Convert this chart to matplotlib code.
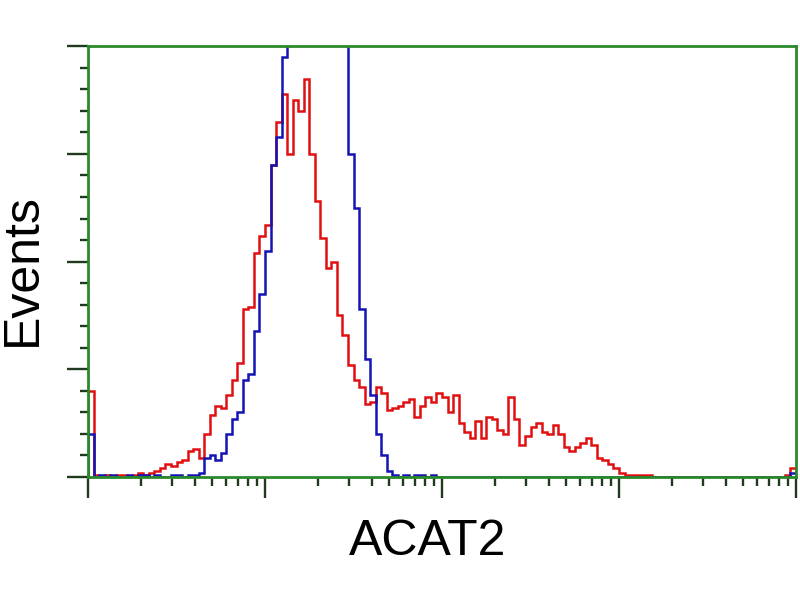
import numpy as np
import matplotlib
matplotlib.use("Agg")
import matplotlib.pyplot as plt
from matplotlib.ticker import LogLocator, MultipleLocator, NullFormatter

# 128 log-spaced channels covering 4 decades (1 .. 10^4)
n_channels = 128

# red: ACAT2 stained sample
red_counts = [
    40, 1, 0, 1, 0, 1, 1, 0, 1, 2, 1, 2, 3, 4, 6, 5,
    7, 8, 12, 13, 9, 20, 29, 33, 32, 38, 45, 53, 78, 79, 104, 112,
    117, 145, 165, 178, 150, 175, 170, 185, 150, 128, 111, 97, 100, 75, 66, 52,
    45, 42, 34, 35, 42, 39, 31, 32, 33, 35, 36, 28, 33, 37, 35, 39,
    37, 30, 38, 25, 21, 18, 26, 18, 28, 27, 22, 20, 37, 27, 15, 19,
    23, 25, 21, 20, 24, 20, 14, 12, 14, 16, 18, 15, 9, 8, 6, 4,
    2, 1, 1, 1, 1, 1, 0, 0, 0, 0, 0, 0, 0, 0, 0, 0,
    0, 0, 0, 0, 0, 0, 0, 0, 0, 0, 0, 0, 0, 0, 1, 4,
]

# blue: negative control
blue_counts = [
    20, 0, 1, 0, 1, 0, 0, 1, 0, 1, 1, 0, 1, 0, 0, 1,
    1, 0, 1, 1, 2, 9, 10, 8, 11, 20, 27, 30, 45, 48, 68, 85,
    105, 145, 158, 195, 240, 270, 300, 320, 330, 320, 300, 280, 260, 230, 210, 150,
    125, 78, 55, 38, 20, 10, 3, 1, 0, 1, 0, 1, 1, 0, 1, 0,
    0, 0, 0, 0, 0, 0, 0, 0, 0, 0, 0, 0, 0, 0, 0, 0,
    0, 0, 0, 0, 0, 0, 0, 0, 0, 0, 0, 0, 0, 0, 0, 0,
    0, 0, 0, 0, 0, 0, 0, 0, 0, 0, 0, 0, 0, 0, 0, 0,
    0, 0, 0, 0, 0, 0, 0, 0, 0, 0, 0, 0, 0, 0, 0, 2,
]

x_label = "ACAT2"
y_label = "Events"

GREEN = "#2a8a2a"
TICK = "#1f3a1f"


def main() -> None:
    edges = np.logspace(0, 4, n_channels + 1)

    fig = plt.figure(figsize=(8, 6), dpi=100)
    ax = fig.add_axes([0.110, 0.205, 0.885, 0.718])

    ax.stairs(red_counts, edges, color="#e01010", linewidth=1.8)
    ax.stairs(blue_counts, edges, color="#1414b4", linewidth=1.8)

    ax.set_xscale("log")
    ax.set_xlim(1, 1e4)
    ax.set_ylim(0, 200)

    ax.xaxis.set_major_locator(LogLocator(base=10, numticks=10))
    ax.xaxis.set_minor_locator(LogLocator(base=10, subs=np.arange(2, 10), numticks=100))
    ax.xaxis.set_major_formatter(NullFormatter())
    ax.xaxis.set_minor_formatter(NullFormatter())
    ax.yaxis.set_major_locator(MultipleLocator(50))
    ax.yaxis.set_minor_locator(MultipleLocator(10))
    ax.yaxis.set_major_formatter(NullFormatter())

    ax.tick_params(which="major", direction="out", length=15, width=1.7, color=TICK)
    ax.tick_params(which="minor", direction="out", length=6.5, width=1.7, color=TICK)
    ax.tick_params(axis="y", which="minor", length=6)

    for spine in ax.spines.values():
        spine.set_color(GREEN)
        spine.set_linewidth(2.0)

    fig.text(428 / 800, 1 - 555 / 600, x_label, fontsize=36,
             family=["Liberation Sans", "DejaVu Sans"],
             ha="center", va="baseline")
    fig.text(36 / 800, 1 - 270 / 600, y_label, fontsize=36, rotation=90,
             rotation_mode="anchor", family=["Liberation Sans", "DejaVu Sans"],
             ha="center", va="baseline")

    fig.savefig("out.png", dpi=100)


if __name__ == "__main__":
    main()
